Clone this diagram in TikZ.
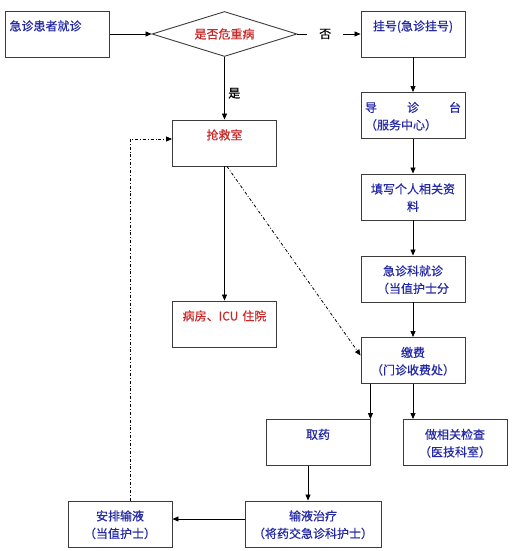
\documentclass[tikz,border=0pt]{standalone}
\usepackage{fontspec}
\setmainfont{Noto Sans CJK SC}[FakeBold=0.6]
\usetikzlibrary{shapes.geometric,arrows.meta}
\definecolor{caseblue}{RGB}{35, 40, 165}
\definecolor{alertred}{RGB}{200, 40, 40}
\definecolor{boxgray}{RGB}{60, 60, 60}

\begin{document}
\begin{tikzpicture}[x=1pt,y=-1pt,font=\fontsize{12}{17.5}\selectfont,
    box/.style={draw=boxgray,line width=0.9pt,inner xsep=4pt,inner ysep=0pt,text width=96pt,text height=19.5pt,text depth=26.5pt,align=center,text=caseblue},
    widebox/.style={box,text width=128pt},
    redbox/.style={box,text=alertred},
    flow/.style={line width=0.8pt,-{Triangle[length=6pt,width=5pt]}},
    backflow/.style={flow,dashdotted}]
            \useasboundingbox (0,0) rectangle (524,551);
            \node[box,align=left] (visit) at (57.5,34) {急诊患者就诊};
            \node[draw=boxgray,line width=0.9pt,diamond,aspect=3.2,minimum width=145pt,minimum height=45pt,inner sep=0pt,text=alertred] (check) at (224.5,34) {是否危重病};
            \node[box] (reg) at (413,34) {挂号(急诊挂号)};
            \node[box,align=left] (guide) at (413,115.5) {导\hfill 诊\hfill 台\\（服务中心）};
            \node[box] (info) at (413,197) {填写个人相关资\\料};
            \node[box] (triage) at (413,279) {急诊科就诊\\（当值护士分};
            \node[box] (pay) at (413,360.5) {缴费\\（门诊收费处）};
            \node[redbox] (rescue) at (224.5,143) {抢救室};
            \node[redbox] (ward) at (224.5,324) {病房、ICU 住院};
            \node[box] (drug) at (318,442.5) {取药};
            \node[box] (exam) at (455,442.5) {做相关检查\\（医技科室）};
            \node[widebox] (infuse) at (313,524) {输液治疗\\（将药交急诊科护士）};
            \node[box] (arrange) at (120,524) {安排输液\\（当值护士）};

            \draw[flow] (visit) -- (check);
            \draw[flow] (check) -- node[fill=white,inner xsep=12pt,pos=0.44] {否} (reg);
            \draw[flow] (check) -- node[right,pos=0.58] {是} (rescue);
            \draw[flow] (reg) -- (guide);
            \draw[flow] (guide) -- (info);
            \draw[flow] (info) -- (triage);
            \draw[flow] (triage) -- (pay);
            \draw[flow] (rescue) -- (ward);
            \draw[backflow] ([xshift=2.5pt]rescue.south) -- ([yshift=5pt]pay.west);
            \draw[flow] (drug.north east |- pay.south) -- (drug.north east);
            \draw[flow] (pay.south) -- (pay.south |- exam.north);
            \draw[flow] ([xshift=-10pt]drug.south) -- ([xshift=-10pt]drug.south |- infuse.north);
            \draw[flow] ([yshift=5pt]infuse.west) -- ([yshift=5pt]arrange.east);
            \draw[backflow] ([xshift=10pt]arrange.north) |- ([yshift=4pt]rescue.west);
        \end{tikzpicture}
\end{document}
